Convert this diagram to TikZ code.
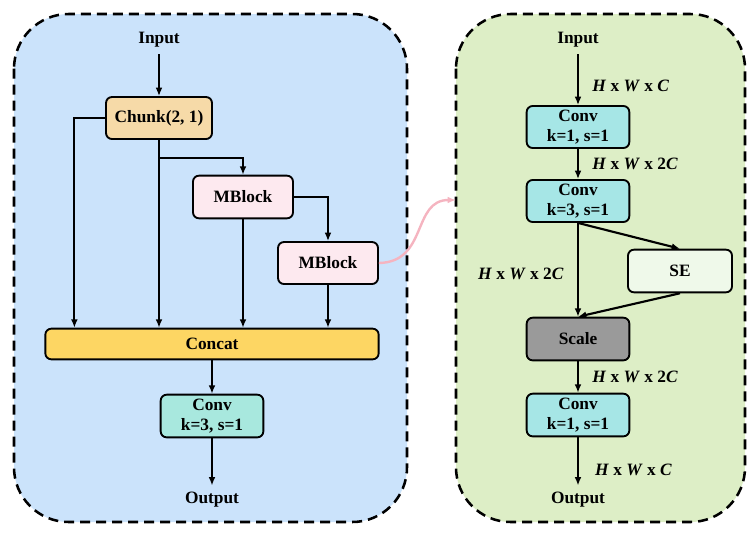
\documentclass[tikz,border=0pt]{standalone}
\usepackage{fontspec}
\setmainfont{Liberation Serif}
\usetikzlibrary{arrows.meta,positioning,calc}

\definecolor{panelblue}{HTML}{CBE3FB}
\definecolor{panelgreen}{HTML}{DDEEC6}
\definecolor{chunkcol}{HTML}{F6DAA8}
\definecolor{mbcol}{HTML}{FDE9EF}
\definecolor{catcol}{HTML}{FDD663}
\definecolor{convcol}{HTML}{A8E8DE}
\definecolor{convcolr}{HTML}{A6E6E6}
\definecolor{secol}{HTML}{EFF9EA}
\definecolor{scalecol}{HTML}{9A9A9A}
\definecolor{linkcol}{HTML}{F5B4C0}

\begin{document}
\begin{tikzpicture}[
  x=0.75pt,y=-0.75pt,
  font=\fontsize{13}{15.6}\selectfont\bfseries,
  box/.style={draw, line width=1.4pt, rounded corners=4.5pt, align=center, minimum width=77pt, minimum height=31.5pt, inner sep=2pt},
  io/.style={inner sep=5pt},
  dim/.style={inner sep=0pt},
  arr/.style={-{Latex[length=2.2mm,width=1.8mm]}, line width=1.6pt},
  link/.style={-{Latex[length=2.2mm,width=1.8mm]}, line width=1.8pt, draw=linkcol},
  panel/.style={draw, dash pattern=on 7.5pt off 4.5pt, line width=1.9pt, rounded corners=41pt}
]
\useasboundingbox (0,0) rectangle (756,537);
% two panels
\draw[panel, fill=panelblue] (14,14) rectangle (407,522);
\draw[panel, fill=panelgreen] (456,14) rectangle (745,522);

% left: chunk + mblocks
\node[io] (inL) at (159,40) {Input};
\node[box, fill=chunkcol, minimum width=79.5pt] (chunk) at (159,118) {Chunk(2, 1)};
\node[box, fill=mbcol, minimum width=75pt, minimum height=32pt] (mb1) at (243,197) {MBlock};
\node[box, fill=mbcol, minimum width=75pt] (mb2) at (328,263) {MBlock};
\node[box, fill=catcol, minimum width=250pt, minimum height=23pt] (concat) at (212,344) {Concat};
\node[box, fill=convcol, minimum height=32pt] (convL) at (212,416) {Conv\\k=3, s=1};
\node[io] (outL) at (212,500) {Output};
\coordinate (split) at ($(chunk.south)+(0,18)$);
\draw[arr] (inL) -- (chunk);
\draw[arr] (chunk.west) -| ([xshift=22.5pt]concat.north west);
\draw[arr] (chunk.south) -- (chunk.south |- concat.north);
\draw[arr] (split) -| (mb1.north);
\draw[arr] (mb1.east) -| (mb2.north);
\draw[arr] (mb1.south) -- (mb1.south |- concat.north);
\draw[arr] (mb2.south) -- (mb2.south |- concat.north);
\draw[arr] (concat) -- (convL);
\draw[arr] (convL) -- (outL);

% link to the detail panel
\coordinate (rin) at (456,200);
\draw[link] (mb2.east) .. controls (428,262) and (412,200) .. (rin);

% right: mblock detail
\node[io] (inR) at (578,40) {Input};
\node[box, fill=convcolr] (conv1) at (578,127) {Conv\\k=1, s=1};
\node[box, fill=convcolr] (conv2) at (578,201) {Conv\\k=3, s=1};
\node[box, fill=secol, minimum width=78pt, minimum height=32pt] (se) at (680,271) {SE};
\node[box, fill=scalecol, minimum height=32pt] (scale) at (578,339) {Scale};
\node[box, fill=convcolr, minimum height=32pt] (conv3) at (578,415) {Conv\\k=1, s=1};
\node[io] (outR) at (578,500) {Output};
\draw[arr] (inR) -- node[dim, right=10pt, pos=0.62] {\textit{H} x \textit{W} x \textit{C}} (conv1);
\draw[arr] (conv1) -- node[dim, right=10pt] {\textit{H} x \textit{W} x 2\textit{C}} (conv2);
\draw[arr] (conv2) -- node[dim, left=10pt, pos=0.54] {\textit{H} x \textit{W} x 2\textit{C}} (scale);
\draw[arr] (conv2.south) -- (se.north);
\draw[arr] (se.south) -- (scale.north);
\draw[arr] (scale) -- node[dim, right=10pt] {\textit{H} x \textit{W} x 2\textit{C}} (conv3);
\draw[arr] (conv3) -- node[dim, right=12pt, pos=0.68] {\textit{H} x \textit{W} x \textit{C}} (outR);
\end{tikzpicture}
\end{document}
